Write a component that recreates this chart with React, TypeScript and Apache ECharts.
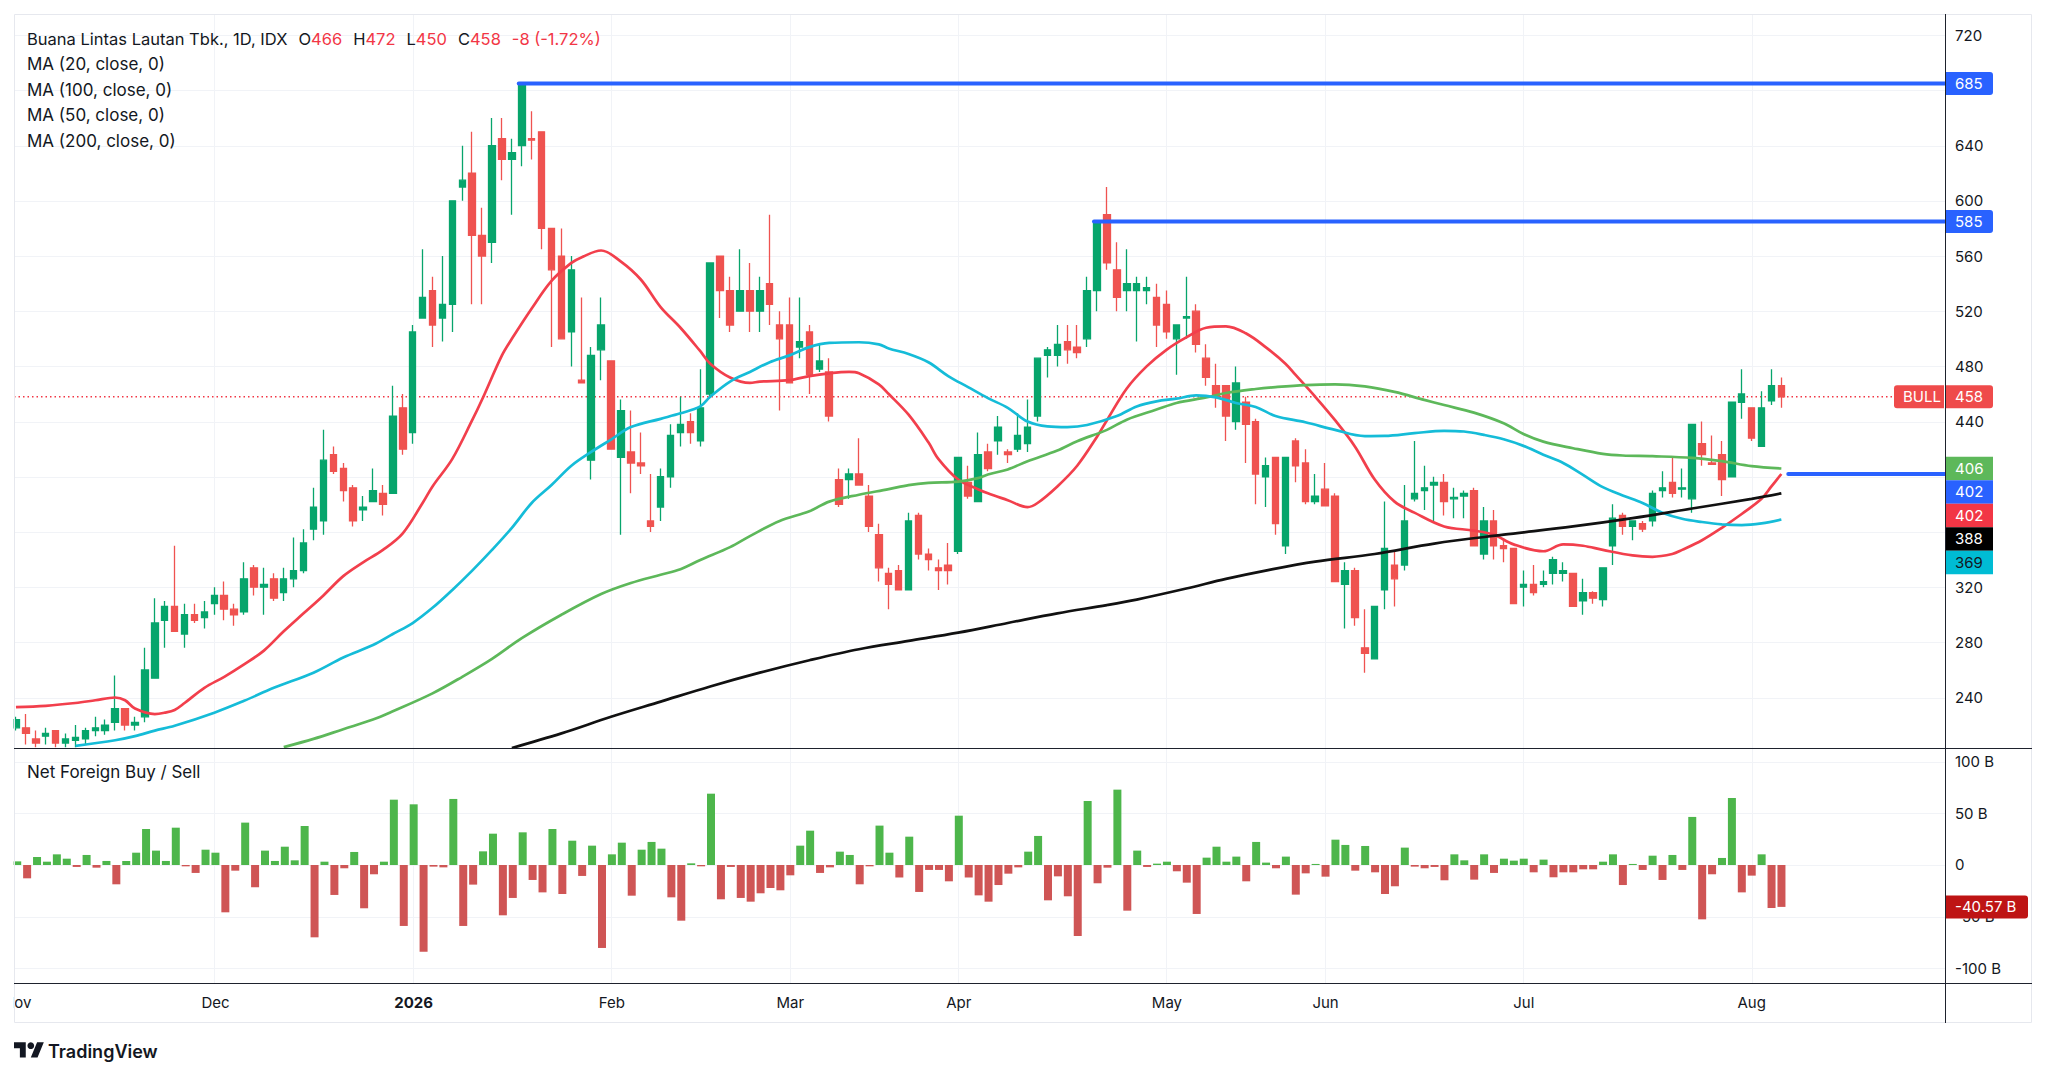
import React, { useEffect, useRef } from 'react';
import * as echarts from 'echarts';

// ---------- DATA ----------
const opens = [
  218,218,210,212,216,207,209,210,216,216, 222,232,220,226,254,296,306,286,300,298,
  308,314,304,302,334,320,326,316,326,332, 362,368,416,406,392,376,382,388,388,450,
  432,515,535,515,525,610,620,575,570,645, 630,640,645,650,580,560,505,470,412,492,
  484,414,418,410,368,378,400,432,440,426, 460,560,535,520,535,520,540,510,510,494,
  505,478,476,398,398,402,386,358,330,332, 318,372,344,334,336,346,396,382,418,426,
  418,420,424,444,488,488,498,494,500,535, 590,550,535,535,535,530,525,500,515,520,
  486,466,466,440,454,440,400,414,350,426, 410,382,391,386,322,332,276,268,318,336,
  336,384,390,394,396,384,386,390,344,368, 350,348,320,322,322,330,330,330,310,316,
  311,350,372,364,366,368,390,396,391,384, 424,410,416,400,454,450,422,455,466,
];
const highs = [
  226,228,216,218,216,214,220,218,226,224, 256,232,226,276,312,310,350,308,308,310,
  320,324,308,338,336,334,330,334,356,362, 392,434,422,410,394,386,406,394,466,460,
  510,565,545,560,600,640,650,595,660,660, 645,685,665,650,580,580,560,530,494,530,
  484,456,448,432,402,406,438,458,446,478, 555,560,545,565,555,545,590,520,530,530,
  510,496,486,406,406,428,394,366,334,336, 374,374,348,340,352,414,408,432,424,444,
  420,446,456,486,494,510,510,510,545,585, 610,570,565,545,545,540,535,510,545,525,
  496,482,466,480,458,442,414,414,414,428, 420,402,410,388,338,334,304,306,382,346,
  394,426,408,400,402,392,390,392,378,376, 355,348,332,336,332,342,338,330,326,317,
  334,380,374,368,368,390,404,414,406,438, 440,430,426,454,478,450,462,478,472,
];
const lows = [
  216,206,204,206,204,204,204,206,212,213, 216,216,216,222,254,276,288,276,294,290,
  300,296,292,300,314,300,310,310,320,330, 354,358,402,382,364,368,382,372,388,416,
  424,515,494,498,505,600,525,525,555,615, 590,625,630,565,494,500,480,468,398,470,
  420,358,388,402,360,368,392,422,424,422, 458,515,505,520,505,505,510,448,468,486,
  460,476,440,378,384,394,360,324,304,318, 318,340,332,318,322,344,384,382,404,416,
  410,418,418,440,472,480,482,486,494,520, 550,520,520,498,525,494,500,474,500,490,
  466,450,426,434,410,380,378,358,344,396, 380,380,379,324,290,292,258,268,304,306,
  332,382,376,368,372,370,370,350,340,340, 338,308,306,314,320,322,324,306,300,308,
  306,336,358,354,360,364,385,385,385,374, 408,409,386,400,442,426,422,452,450,
];
const closes = [
  224,214,207,214,207,210,211,216,218,220, 232,220,222,260,294,306,288,300,296,302,
  314,304,300,326,320,322,312,326,332,352, 378,412,404,390,368,378,390,380,444,420,
  505,530,510,525,600,615,575,560,640,630, 635,685,644,580,550,500,550,468,488,510,
  420,448,410,408,364,400,430,438,432,450, 555,535,510,535,520,535,525,500,468,498,
  474,484,444,380,402,394,364,334,322,318, 368,344,340,332,332,414,386,416,406,436,
  416,430,436,486,492,496,492,490,535,585, 555,530,540,540,537,510,505,510,516,496,
  472,458,444,468,438,402,408,366,414,408, 382,386,379,324,332,298,272,306,348,326,
  368,388,392,396,382,385,388,350,368,350, 348,308,322,316,324,340,332,306,316,312,
  334,370,364,368,362,388,392,388,392,438, 416,409,398,454,460,428,450,466,458,
];
// Net foreign buy / sell, in billions
const netForeign = [
  3.5,-12.9,7.7,3.2,10.3,6.1,-1.9,9.7,-2.6,3.9,
  -18.7,3.9,11.9,34.8,13.9,3.9,36.1,-1.3,-7.7,14.8,
  11.9,-45.8,-5.5,41,-21.6,13.9,3.9,17.7,4.5,37.7,
  -70,3.2,-29,-3.2,12.6,-41.9,-9,3.2,63.2,-59,
  58.7,-83.9,-1.6,-2.3,63.9,-59,-19,13.2,30.3,-48.7,
  -31.9,31.6,-14.5,-26.5,34.8,-28.1,23.5,-10.6,18.7,-80.3,
  10.3,21.6,-29.7,14.8,22.3,15.8,-31.3,-53.9,1.6,-1.3,
  69,-33.2,-1.9,-31.9,-35.5,-27.4,-22.3,-24.5,-10,18.7,
  33.2,-7.7,-2.3,12.9,9.7,-18.7,-1.3,38.1,11.9,-12.1,
  27.4,-26.1,-4.8,-4.8,-15.8,47.7,-12.1,-29.4,-35.5,-19.4,
  -8.4,-2.3,12.9,28.1,-34.2,-11,-30.3,-68.7,61.9,-17.7,
  -2.6,72.9,-44.2,13.9,-1.9,1.3,3.2,-6.1,-17.1,-47.4,
  7.1,17.7,3.2,8.1,-15.8,22.3,2.3,-3.2,8.1,-28.7,
  -8.1,1,-11.3,24.5,19.4,-5.5,18.4,-7.1,-28.1,-20.6,
  16.8,-1.6,-3.2,-1.9,-14.8,10.3,4.5,-14.2,10.3,-7.7,
  6.1,4.2,6.1,-7.1,5.2,-11.9,-7.1,-7.1,-4.2,-4.2,
  3.2,10.3,-19.4,1,-4.8,9,-14.5,9.7,-4.8,46.5,
  -52.6,-9,6.8,64.8,-26.5,-10.3,10.3,-41.6,-40.57,
];
// Moving averages: [bar index, value]
const ma20 = [
  [0,233],[3,234],[6,236],[8,238],[10,240],[11,238],[12,232],[14,228],[15,229],[16,231],[17,236],[19,247],
  [21,255],[23,264],[25,274],[27,288],[29,301],[31,314],[33,328],[35,338],[37,347],[39,359],[41,381],[42,393],
  [44,413],[46,441],[47,456],[49,488],[50,500],[52,522],[54,542],[56,555],[57,559],[59,564],[61,556],[63,543],
  [65,523],[67,508],[69,491],[70,482],[72,472],[74,468],[75,469],[78,470],[80,473],[82,475],[84,476],[85,475],
  [87,467],[88,460],[90,445],[92,425],[93,413],[95,398],[97,391],[98,388],[100,383],[102,378],[103,381],[105,393],
  [107,408],[109,429],[110,441],[112,464],[114,480],[116,492],[118,501],[120,508],[122,509],[124,504],[126,494],
  [128,482],[129,474],[131,458],[133,441],[135,422],[137,398],[139,382],[141,374],[144,364],[147,361],[149,358],
  [151,351],[154,346],[156,351],[158,350],[160,347],[163,343],[165,342],[167,344],[168,347],[170,354],[172,363],
  [174,373],[176,384],[177,393],[178,402],
];
const ma50 = [
  [6,205],[10,209],[12,212],[14,216],[16,219.5],[20,229],[23,237.6],[26,247],[30,258],[33,269],[36,278],[38,286],
  [40,294],[42,305],[44,318],[46,332],[48,347],[50,363],[52,381],[54,394],[56,408],[58,418],[60,427],[62,436],
  [65,442],[67,446],[69,451],[70,458],[72,469],[74,476],[76,483],[78,488],[80,494],[82,497],[85,497.5],[87,496],
  [88,493],[90,489],[92,483],[94,473],[96,465],[98,457],[100,450],[102,440],[104,436.5],[106,436],[108,437.5],
  [111,444],[113,451],[115,454.7],[117,456.6],[119,459],[121,457.6],[123,453.5],[125,450.6],[127,444],[130,439.5],
  [133,434],[136,429.5],[138,429.6],[141,431.6],[144,433.3],[146,432.8],[148,430.4],[150,427.2],[152,422.4],
  [154,416],[156,410],[158,401.4],[160,392.5],[162,386.5],[164,381],[166,374],[168,369.6],[170,367.2],[172,365.5],
  [174,365],[176,366.2],[178,369],
];
const ma100 = [
  [27,204],[30,210],[33,217],[36,224],[38,230],[42,243],[45,255],[48,268],[51,283],[55,300],[59,315],[62,323],
  [65,329],[67,333],[69,339.7],[72,349],[74,357],[77,368],[80,375],[82,382],[85,387],[88,391],[90,394],[92,395.6],
  [95,396.5],[97,399],[98,401.7],[100,405.3],[102,411.3],[105,419],[107,425.8],[110,434],[112,441.4],[115,448.7],
  [117,453.5],[120,457.5],[122,460.7],[125,463.6],[127,465],[130,466.5],[133,467],[136,465.5],[139,461.5],
  [142,455.7],[144,452],[147,446.5],[150,438.8],[152,431],[154,425.5],[157,420.7],[160,416.6],[162,415.4],
  [165,414.9],[169,413.7],[172,411.3],[175,407.7],[178,406],
];
const ma200 = [
  [50,203.4],[55,214],[60,226],[65,237],[70,248],[75,258],[80,267],[85,275],[90,281],[95,287],[100,294],[105,301],
  [110,307],[113,311],[118,319],[122,326],[126,332],[131,338.5],[137,344],[143,351.6],[150,358],[157,364],
  [163,370],[169,377],[175,384],[178,388],
];
// Horizontal levels: value and the bar where they start
const levelValues = [685, 585, 402];
const levelStarts = [51, 109, 179];
const monthTicks = [0, 20, 40, 60, 78, 95, 116, 132, 152, 175];
const monthLabels = ['Nov', 'Dec', '2026', 'Feb', 'Mar', 'Apr', 'May', 'Jun', 'Jul', 'Aug'];
const priceLabels = [720, 640, 600, 560, 520, 480, 440, 320, 280, 240];
const priceGrid = [240, 280, 320, 360, 400, 440, 480, 520, 560, 600, 640, 680, 720];
const flowTicks = [100, 50, 0, -50, -100];
const maNames = ['MA (20, close, 0)', 'MA (100, close, 0)', 'MA (50, close, 0)', 'MA (200, close, 0)'];
const titleText = 'Buana Lintas Lautan Tbk., 1D, IDX';
const lastOHLC = { o: 466, h: 472, l: 450, c: 458, chg: '-8 (-1.72%)' };
const lastFlowLabel = '-40.57 B';
const N_CAT = 195;

export default function App() {
  const ref = useRef<HTMLDivElement>(null);
  useEffect(() => {
    const el = ref.current;
    if (!el) return;
    const chart = echarts.init(el, null, { renderer: 'svg' });
    const FONT = 'Inter, "Noto Sans", "DejaVu Sans", sans-serif';
    const TXT = '#131722';
    const UP = '#07A56C';
    const DOWN = '#EF5350';
    const C20 = '#F23F4C';
    const C50 = '#15BCD8';
    const C100 = '#5DB85A';
    const C200 = '#111111';
    const BLUE = '#2962FF';
    const cats = Array.from({ length: N_CAT }, (_, i) => String(i));
    const candleData = opens.map((o, i) => [o, closes[i], lows[i], highs[i]]);
    const labelMap = new Map<number, string>(monthTicks.map((t, k) => [t, monthLabels[k]]));

    const maSeries = (name: string, data: number[][], color: string) => ({
      name, type: 'line', xAxisIndex: 0, yAxisIndex: 0, data, smooth: 0.35, showSymbol: false, symbol: 'none',
      lineStyle: { color, width: 2.7 }, z: 3, silent: true,
    });

    chart.setOption({
      animation: false,
      backgroundColor: '#ffffff',
      grid: [
        { left: 11, right: 103, top: 14, height: 734 },
        { left: 11, right: 103, top: 748, height: 235 },
      ],
      xAxis: [
        { type: 'category', gridIndex: 0, data: cats, boundaryGap: true,
          axisLine: { show: false }, axisTick: { show: false }, axisLabel: { show: false }, splitLine: { show: false } },
        { type: 'category', gridIndex: 1, data: cats, boundaryGap: true,
          axisLine: { show: false }, axisTick: { show: false }, splitLine: { show: false },
          axisLabel: {
            show: true, interval: (idx: number) => labelMap.has(idx),
            formatter: (val: string) => { const l = labelMap.get(Number(val)); return l === '2026' ? '{b|2026}' : (l || ''); },
            color: TXT, fontSize: 15, fontFamily: FONT, margin: 12,
            rich: { b: { fontWeight: 'bold', fontSize: 15, color: TXT, fontFamily: FONT } },
          } },
      ],
      yAxis: [
        { type: 'value', gridIndex: 0, position: 'right', min: 203.4, max: 735.44, scale: true,
          axisLine: { show: false }, axisTick: { show: false }, splitLine: { show: false },
          axisLabel: { customValues: priceLabels, color: TXT, fontSize: 15, fontFamily: FONT, margin: 10 } },
        { type: 'value', gridIndex: 1, position: 'right', min: -114.2, max: 113.2,
          axisLine: { show: false }, axisTick: { show: false }, splitLine: { show: false },
          axisLabel: { customValues: flowTicks, color: TXT, fontSize: 15, fontFamily: FONT, margin: 10,
            formatter: (v: number) => (v === 0 ? '0' : `${v} B`) } },
      ],
      series: [
        { type: 'candlestick', xAxisIndex: 0, yAxisIndex: 0, data: candleData, barWidth: 7, z: 2,
          itemStyle: { color: UP, color0: DOWN, borderColor: UP, borderColor0: DOWN, borderWidth: 1.3 } },
        maSeries('MA20', ma20, C20),
        maSeries('MA100', ma100, C100),
        maSeries('MA50', ma50, C50),
        maSeries('MA200', ma200, C200),
        { type: 'bar', xAxisIndex: 1, yAxisIndex: 1, data: netForeign, barWidth: 8,
          itemStyle: { color: (p: any) => (p.value >= 0 ? '#4DB64B' : '#CF5555') } },
      ],
    });

    const yPx = (axis: number, v: number) => chart.convertToPixel({ yAxisIndex: axis }, v) as unknown as number;
    const xPx = (i: number) => chart.convertToPixel({ xAxisIndex: 0 }, i) as unknown as number;
    const R = 1945; // price scale edge
    const g: any[] = [];
    const GRID_C = '#F1F3F7';
    const line = (x1: number, y1: number, x2: number, y2: number, stroke: string, lw: number, z: number, extra: any = {}) =>
      ({ type: 'line', silent: true, z, shape: { x1, y1, x2, y2 }, style: { stroke, lineWidth: lw, ...extra } });

    for (const v of priceGrid) { const y = Math.round(yPx(0, v)) + 0.5; g.push(line(14, y, R, y, GRID_C, 1, 0)); }
    for (const v of flowTicks) { const y = Math.round(yPx(1, v)) + 0.5; g.push(line(14, y, R, y, GRID_C, 1, 0)); }
    for (const m of monthTicks) {
      if (m === 0) continue;
      const x = Math.round(xPx(m)) + 0.5;
      g.push(line(x, 14, x, 748, GRID_C, 1, 0));
      g.push(line(x, 748, x, 983, GRID_C, 1, 0));
    }
    // last price dotted line
    const yLast = yPx(0, closes[closes.length - 1]);
    g.push(line(14, yLast, 1894, yLast, '#F23645', 1.3, 1, { lineDash: [1.5, 3] }));

    // masks / frame / separators
    g.push({ type: 'rect', silent: true, z: 40, shape: { x: 0, y: 0, width: 13.5, height: 1079 }, style: { fill: '#ffffff' } });
    g.push({ type: 'rect', silent: true, z: 41, shape: { x: 14.5, y: 14.5, width: 2017, height: 1008 }, style: { fill: 'none', stroke: '#E6E8EE', lineWidth: 1 } });
    g.push(line(14, 748.5, 2032, 748.5, '#1E222D', 1, 41));
    g.push(line(14, 983.5, 2032, 983.5, '#1E222D', 1, 41));
    g.push(line(R + 0.5, 14, R + 0.5, 1023, '#1E222D', 1, 41));

    // level lines
    levelValues.forEach((v, k) => {
      const y = yPx(0, v);
      const x0 = xPx(levelStarts[k]) - 3;
      g.push(line(x0, y, R, y, BLUE, 4, 5, { lineCap: 'round' }));
    });

    const box = (x: number, yc: number, w: number, h: number, fill: string, text: string, tc: string, r: any) => ({
      type: 'group', z: 50, silent: true, children: [
        { type: 'rect', z: 50, shape: { x, y: yc - h / 2, width: w, height: h, r }, style: { fill } },
        { type: 'text', z: 51, x: x + 9, y: yc, style: { text, fill: tc, fontSize: 15, fontFamily: FONT, verticalAlign: 'middle', align: 'left' } },
      ],
    });
    // level labels
    g.push(box(R + 1, yPx(0, levelValues[0]), 47, 23, BLUE, String(levelValues[0]), '#fff', [0, 3, 3, 0]));
    g.push(box(R + 1, yPx(0, levelValues[1]), 47, 23, BLUE, String(levelValues[1]), '#fff', [0, 3, 3, 0]));
    // last price + BULL
    g.push(box(R + 1, yLast, 47, 23, '#EF4B4B', String(closes[closes.length - 1]), '#fff', [0, 3, 3, 0]));
    g.push(box(1894, yLast, 50, 23, '#EF4B4B', 'BULL', '#fff', [3, 0, 0, 3]));
    // stacked indicator labels
    const stack = [
      { v: ma100[ma100.length - 1][1], c: C100, tc: '#fff' },
      { v: levelValues[2], c: BLUE, tc: '#fff' },
      { v: ma20[ma20.length - 1][1], c: '#F23645', tc: '#fff' },
      { v: ma200[ma200.length - 1][1], c: '#000000', tc: '#fff' },
      { v: ma50[ma50.length - 1][1], c: '#00BCD4', tc: TXT },
    ];
    let prev = -1e9;
    const H = 23.5;
    for (const s of stack) {
      let y = yPx(0, s.v);
      if (y < prev + H) y = prev + H;
      prev = y;
      g.push(box(R + 1, y, 47, H, s.c, String(Math.round(s.v)), s.tc, 0));
    }
    // flow label
    g.push(box(R + 1, yPx(1, netForeign[netForeign.length - 1]), 82, 23, '#BE1414', lastFlowLabel, '#fff', [0, 3, 3, 0]));

    // header texts
    const FS = 16.5;
    const rich = {
      k: { fill: TXT, color: TXT, fontSize: FS, fontFamily: FONT },
      v: { fill: '#F23645', color: '#F23645', fontSize: FS, fontFamily: FONT },
      s: { width: 11, fontSize: FS, fontFamily: FONT },
    };
    const head = `{k|${titleText}}{s| }{k|O}{v|${lastOHLC.o}}{s| }{k|H}{v|${lastOHLC.h}}{s| }{k|L}{v|${lastOHLC.l}}{s| }{k|C}{v|${lastOHLC.c}}{s| }{v|${lastOHLC.chg}}`;
    g.push({ type: 'text', z: 60, silent: true, x: 27, y: 39, style: { text: head, rich, fill: TXT, fontSize: FS, fontFamily: FONT, verticalAlign: 'middle' } });
    const maY = [64, 90, 115, 141];
    maNames.forEach((t, k) => {
      g.push({ type: 'text', z: 60, silent: true, x: 27, y: maY[k], style: { text: t, fill: TXT, fontSize: 17, fontFamily: FONT, verticalAlign: 'middle' } });
    });
    g.push({ type: 'text', z: 60, silent: true, x: 27, y: 772, style: { text: 'Net Foreign Buy / Sell', fill: TXT, fontSize: 17, fontFamily: FONT, verticalAlign: 'middle' } });

    // TradingView logo
    echarts.graphic.registerShape('tvlogo', echarts.graphic.extendPath('M14 22H7V11H0V4h14v18zM28 22h-8l7.5-18h8L28 22z', {}));
    const s = 0.84;
    g.push({ type: 'tvlogo', z: 60, silent: true, x: 14, y: 1039, scaleX: s, scaleY: s, style: { fill: TXT } });
    g.push({ type: 'circle', z: 60, silent: true, shape: { cx: 14 + 20 * s, cy: 1039 + 8 * s, r: 4 * s }, style: { fill: TXT } });
    g.push({ type: 'text', z: 60, silent: true, x: 48, y: 1051, style: { text: 'TradingView', fill: TXT, fontSize: 18, fontWeight: 600, fontFamily: FONT, verticalAlign: 'middle' } });

    chart.setOption({ graphic: g });

    return () => { chart.dispose(); };
  }, []);
  return <div ref={ref} style={{ position: 'absolute', left: 0, top: 0, width: 2048, height: 1079 }} />;
}
